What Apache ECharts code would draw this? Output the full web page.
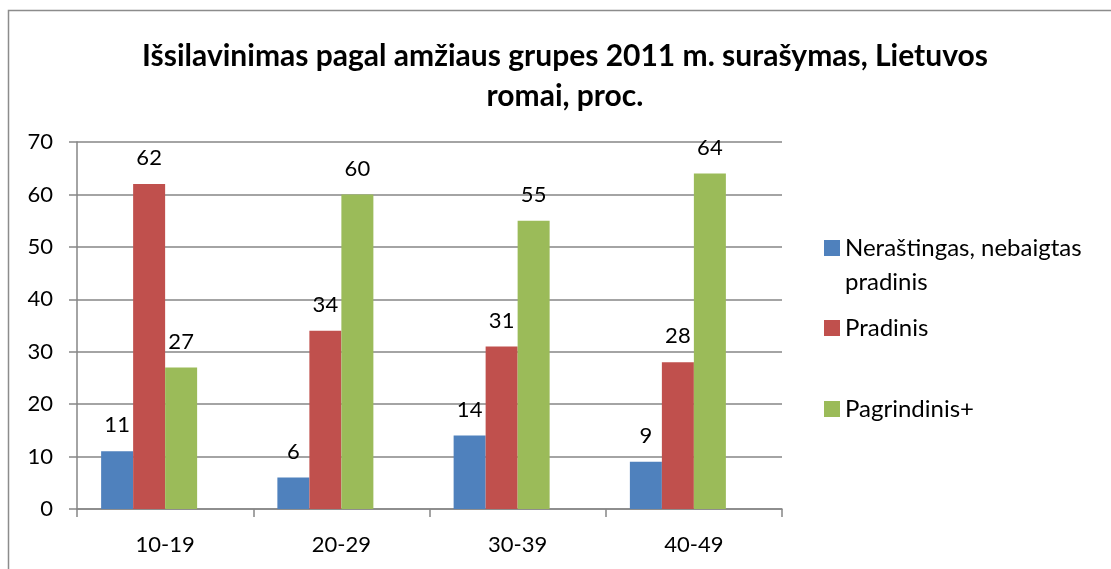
<!DOCTYPE html>
<html>
<head>
<meta charset="utf-8">
<script src="https://cdn.jsdelivr.net/npm/echarts@6/dist/echarts.min.js"></script>
<style>
  html, body { margin: 0; padding: 0; background: #fff; }
  #chart { width: 1111px; height: 569px; }
</style>
</head>
<body>
<div id="chart"></div>
<script>
var categories = ['10-19', '20-29', '30-39', '40-49'];
var seriesNames = ['Neraštingas, nebaigtas\npradinis', 'Pradinis', 'Pagrindinis+'];
var nerastingas = [11, 6, 14, 9];
var pradinis = [62, 34, 31, 28];
var pagrindinis = [27, 60, 55, 64];
var yTicks = [0, 10, 20, 30, 40, 50, 60, 70];

var colors = ['#4F81BD', '#C0504D', '#9BBB59'];
var font = 'Lato, "Open Sans", sans-serif';

function barSeries(name, data, color) {
    return {
        name: name,
        type: 'bar',
        data: data,
        barWidth: 32,
        barGap: '0%',
        barCategoryGap: '27.27%',
        itemStyle: { color: color },
        label: {
            show: true,
            position: 'top',
            distance: 15,
            color: '#000',
            fontSize: 22,
            fontFamily: font
        }
    };
}

function legendItem(name, top, twoLines) {
    return {
        data: [name],
        orient: 'vertical',
        left: 819,
        top: top,
        itemWidth: 16,
        itemHeight: 16,
        icon: 'rect',
        // empty first line keeps the square level with the first text line
        formatter: twoLines ? function (n) { return '\n' + n; } : '{name}',
        textStyle: {
            fontSize: 24,
            fontFamily: font,
            color: '#000',
            lineHeight: 34
        }
    };
}

var chart = echarts.init(document.getElementById('chart'));
chart.setOption({
    backgroundColor: '#fff',
    animation: false,
    title: {
        text: 'Išsilavinimas pagal amžiaus grupes 2011 m. surašymas, Lietuvos\nromai, proc.',
        left: 560,
        top: 31,
        textAlign: 'center',
        textStyle: {
            fontSize: 30,
            fontWeight: 'bold',
            fontFamily: font,
            color: '#000',
            lineHeight: 40
        }
    },
    graphic: [{
        type: 'rect',
        shape: { x: 8.5, y: 10.5, width: 1200, height: 700 },
        style: { fill: 'none', stroke: '#8c8c8c', lineWidth: 1.5 },
        silent: true
    }],
    legend: [
        legendItem(seriesNames[0], 192, true),
        legendItem(seriesNames[1], 306),
        legendItem(seriesNames[2], 387)
    ],
    grid: { left: 77, right: 329, top: 142, bottom: 60 },
    xAxis: {
        type: 'category',
        data: categories,
        axisLine: { lineStyle: { color: '#868686', width: 1.5 } },
        axisTick: { show: true, length: 8, lineStyle: { color: '#868686', width: 1.5 } },
        axisLabel: { color: '#000', fontSize: 22, fontFamily: font, margin: 25 }
    },
    yAxis: {
        type: 'value',
        min: yTicks[0],
        max: yTicks[yTicks.length - 1],
        interval: 10,
        axisLine: { show: true, lineStyle: { color: '#868686', width: 1.5 } },
        axisTick: { show: true, length: 8, lineStyle: { color: '#868686', width: 1.5 } },
        splitLine: { lineStyle: { color: '#868686', width: 1.5 } },
        axisLabel: { color: '#000', fontSize: 22, fontFamily: font, margin: 24 }
    },
    series: [
        barSeries(seriesNames[0], nerastingas, colors[0]),
        barSeries(seriesNames[1], pradinis, colors[1]),
        barSeries(seriesNames[2], pagrindinis, colors[2]),
        // empty slot so the bars sit left of the category centre, as in the original
        { name: 'tuščia', type: 'bar', data: [], barWidth: 32, barGap: '0%', barCategoryGap: '27.27%' }
    ]
});
</script>
</body>
</html>
